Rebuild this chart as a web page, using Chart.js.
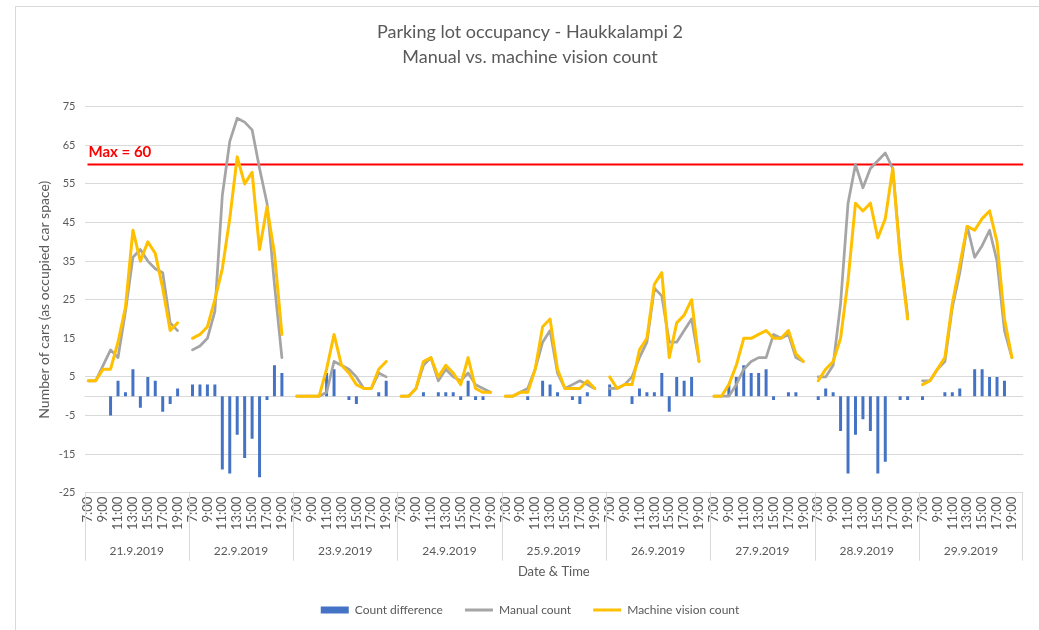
<!DOCTYPE html>
<html>
<head>
<meta charset="utf-8">
<script src="https://cdn.jsdelivr.net/npm/chart.js@4.4.1/dist/chart.umd.min.js"></script>
<style>
  html, body { margin: 0; padding: 0; background: #fff; }
  canvas { display: block; }
</style>
</head>
<body>
<canvas id="occupancyChart" width="1039" height="630"></canvas>
<script>
// Päivät ja tunnit (14 paikkaa per päivä, viimeinen tyhjä väli)
const days = ['21.9.2019', '22.9.2019', '23.9.2019', '24.9.2019', '25.9.2019',
              '26.9.2019', '27.9.2019', '28.9.2019', '29.9.2019'];
const hours = ['7:00', '8:00', '9:00', '10:00', '11:00', '12:00', '13:00',
               '14:00', '15:00', '16:00', '17:00', '18:00', '19:00', '20:00'];

const machineCount = [
  4, 4, 7, 7, 14, 23, 43, 35, 40, 37, 28, 17, 19, null,
  15, 16, 18, 25, 33, 46, 62, 55, 58, 38, 49, 37, 16, null,
  0, 0, 0, 0, 7, 16, 8, 6, 3, 2, 2, 7, 9, null,
  0, 0, 2, 9, 10, 5, 8, 6, 3, 10, 2, 1, 1, null,
  0, 0, 1, 1, 7, 18, 20, 7, 2, 2, 2, 4, 2, null,
  5, 2, 3, 3, 12, 15, 29, 32, 10, 19, 21, 25, 9, null,
  0, 0, 3, 8, 15, 15, 16, 17, 15, 15, 17, 11, 9, null,
  4, 7, 9, 15, 30, 50, 48, 50, 41, 46, 59, 36, 20, null,
  3, 4, 7, 10, 24, 34, 44, 43, 46, 48, 40, 20, 10, null
];

const manualCount = [
  4, 4, 8, 12, 10, 22, 36, 38, 35, 33, 32, 19, 17, null,
  12, 13, 15, 22, 52, 66, 72, 71, 69, 59, 50, 29, 10, null,
  0, 0, 0, 0, 1, 9, 8, 7, 5, 2, 2, 6, 5, null,
  0, 0, 2, 8, 10, 4, 7, 5, 4, 6, 3, 2, 1, null,
  0, 0, 1, 2, 7, 14, 17, 6, 2, 3, 4, 3, 2, null,
  2, 2, 3, 5, 10, 14, 28, 26, 14, 14, 17, 20, 9, null,
  0, 0, 0, 3, 7, 9, 10, 10, 16, 15, 16, 10, 9, null,
  5, 5, 8, 24, 50, 60, 54, 59, 61, 63, 59, 37, 21, null,
  4, 4, 7, 9, 23, 32, 44, 36, 39, 43, 35, 17, 10, null
];

const countDiff = [
  0, 0, 0, -5, 4, 1, 7, -3, 5, 4, -4, -2, 2, null,
  3, 3, 3, 3, -19, -20, -10, -16, -11, -21, -1, 8, 6, null,
  0, 0, 0, 0, 6, 7, 0, -1, -2, 0, 0, 1, 4, null,
  0, 0, 0, 1, 0, 1, 1, 1, -1, 4, -1, -1, 0, null,
  0, 0, 0, -1, 0, 4, 3, 1, 0, -1, -2, 1, 0, null,
  3, 0, 0, -2, 2, 1, 1, 6, -4, 5, 4, 5, 0, null,
  0, 0, 3, 5, 8, 6, 6, 7, -1, 0, 1, 1, 0, null,
  -1, 2, 1, -9, -20, -10, -6, -9, -20, -17, 0, -1, -1, null,
  -1, 0, 0, 1, 1, 2, 0, 7, 7, 5, 5, 4, 0, null
];

const maxCapacity = 60;

const textGray = '#595959';
const gridGray = '#D9D9D9';
Chart.defaults.font.family = 'Lato, "Open Sans", sans-serif';
Chart.defaults.color = textGray;

const labels = days.flatMap(() => hours);

// Excel-tyyliset lisät: kehys, nollaviiva, max-viiva, päivämäärärivi
const excelExtras = {
  id: 'excelExtras',
  beforeDraw(chart) {
    const ctx = chart.ctx;
    ctx.save();
    ctx.fillStyle = '#fff';
    ctx.fillRect(0, 0, chart.width, chart.height);
    ctx.strokeStyle = gridGray;
    ctx.lineWidth = 1;
    ctx.strokeRect(15.5, 6.5, chart.width + 20, chart.height + 20);
    ctx.restore();
  },
  beforeDatasetsDraw(chart) {
    const {ctx, chartArea, scales: {y}} = chart;
    ctx.save();
    const y0 = Math.round(y.getPixelForValue(0)) + 0.5;
    ctx.strokeStyle = gridGray;
    ctx.lineWidth = 1;
    ctx.beginPath();
    ctx.moveTo(chartArea.left, y0);
    ctx.lineTo(chartArea.right, y0);
    ctx.stroke();

    const yMax = y.getPixelForValue(maxCapacity);
    ctx.strokeStyle = '#FF0000';
    ctx.lineWidth = 2;
    ctx.beginPath();
    ctx.moveTo(chartArea.left + 3, yMax);
    ctx.lineTo(chartArea.right, yMax);
    ctx.stroke();
    ctx.fillStyle = '#FF0000';
    ctx.font = 'bold 15px Lato, sans-serif';
    ctx.textBaseline = 'alphabetic';
    ctx.fillText('Max = ' + maxCapacity, chartArea.left + 4, yMax - 8);
    ctx.restore();
  },
  afterDraw(chart) {
    const {ctx, chartArea, scales: {x}} = chart;
    const n = hours.length;
    const half = (x.getPixelForValue(1) - x.getPixelForValue(0)) / 2;
    ctx.save();
    ctx.strokeStyle = gridGray;
    ctx.lineWidth = 1;
    ctx.fillStyle = textGray;
    ctx.font = '12px Lato, sans-serif';
    ctx.textAlign = 'center';
    ctx.textBaseline = 'middle';
    days.forEach((d, i) => {
      const x0 = x.getPixelForValue(i * n) - half;
      const x1 = x.getPixelForValue(i * n + n - 1) + half;
      ctx.beginPath();
      ctx.moveTo(Math.round(x0) + 0.5, chartArea.bottom);
      ctx.lineTo(Math.round(x0) + 0.5, chartArea.bottom + 68);
      if (i === days.length - 1) {
        ctx.moveTo(Math.round(x1) - 0.5, chartArea.bottom);
        ctx.lineTo(Math.round(x1) - 0.5, chartArea.bottom + 68);
      }
      ctx.stroke();
      ctx.fillText(d, (x0 + x1) / 2, chartArea.bottom + 58);
    });
    ctx.restore();
  }
};

const ctx = document.getElementById('occupancyChart').getContext('2d');
new Chart(ctx, {
  data: {
    labels: labels,
    datasets: [
      {
        type: 'bar',
        label: 'Count difference',
        data: countDiff,
        backgroundColor: '#4472C4',
        borderColor: '#4472C4',
        borderWidth: 0,
        barPercentage: 0.4,
        categoryPercentage: 1,
        order: 3
      },
      {
        type: 'line',
        label: 'Manual count',
        data: manualCount,
        borderColor: '#A5A5A5',
        backgroundColor: '#A5A5A5',
        borderWidth: 2.75,
        pointRadius: 0,
        tension: 0,
        spanGaps: false,
        borderJoinStyle: 'round',
        borderCapStyle: 'round',
        order: 2
      },
      {
        type: 'line',
        label: 'Machine vision count',
        data: machineCount,
        borderColor: '#FFC000',
        backgroundColor: '#FFC000',
        borderWidth: 3,
        pointRadius: 0,
        tension: 0,
        spanGaps: false,
        borderJoinStyle: 'round',
        borderCapStyle: 'round',
        order: 1
      }
    ]
  },
  options: {
    responsive: false,
    animation: false,
    layout: { padding: { left: 30, right: 9, top: 0, bottom: 4 } },
    plugins: {
      title: {
        display: true,
        text: ['Parking lot occupancy - Haukkalampi 2', 'Manual vs. machine vision count'],
        color: textGray,
        font: { size: 18, weight: 'normal', lineHeight: 1.389 },
        padding: { top: 19.5, bottom: 37.2 }
      },
      legend: {
        position: 'bottom',
        labels: {
          color: textGray,
          font: { size: 12 },
          padding: 22,
          usePointStyle: true,
          pointStyleWidth: 28,
          boxHeight: 7,
          generateLabels: (chart) => chart.data.datasets.map((ds, i) => ({
            text: ds.label,
            datasetIndex: i,
            fillStyle: ds.backgroundColor,
            strokeStyle: ds.borderColor,
            lineWidth: ds.type === 'line' ? 3 : 0,
            pointStyle: ds.type === 'line' ? 'line' : 'rect',
            fontColor: textGray,
            hidden: false
          }))
        }
      },
      tooltip: { enabled: false }
    },
    scales: {
      x: {
        offset: true,
        grid: { display: false, drawTicks: false },
        border: { display: false },
        ticks: {
          autoSkip: false,
          minRotation: 90,
          maxRotation: 90,
          padding: 4,
          font: { size: 13 },
          color: textGray,
          callback: function (value, index) {
            return index % 2 === 0 ? this.getLabelForValue(value) : '';
          }
        },
        title: {
          display: true,
          text: 'Date & Time',
          color: textGray,
          font: { size: 13 },
          padding: { top: 0, bottom: 2.7 }
        },
        afterFit: (scale) => { scale.height = 89.3; }
      },
      y: {
        min: -25,
        max: 75,
        ticks: { stepSize: 10, padding: 9, font: { size: 11 }, color: textGray },
        grid: {
          drawTicks: false,
          color: (c) => (c.tick && c.tick.value === 15) ? 'rgba(0,0,0,0)' : gridGray
        },
        border: { display: false },
        title: {
          display: true,
          text: 'Number of cars (as occupied car space)',
          color: textGray,
          font: { size: 14 },
          padding: { top: 6, bottom: 0 }
        },
        afterFit: (scale) => { scale.width = 54.5; }
      }
    }
  },
  plugins: [excelExtras]
});
</script>
</body>
</html>
